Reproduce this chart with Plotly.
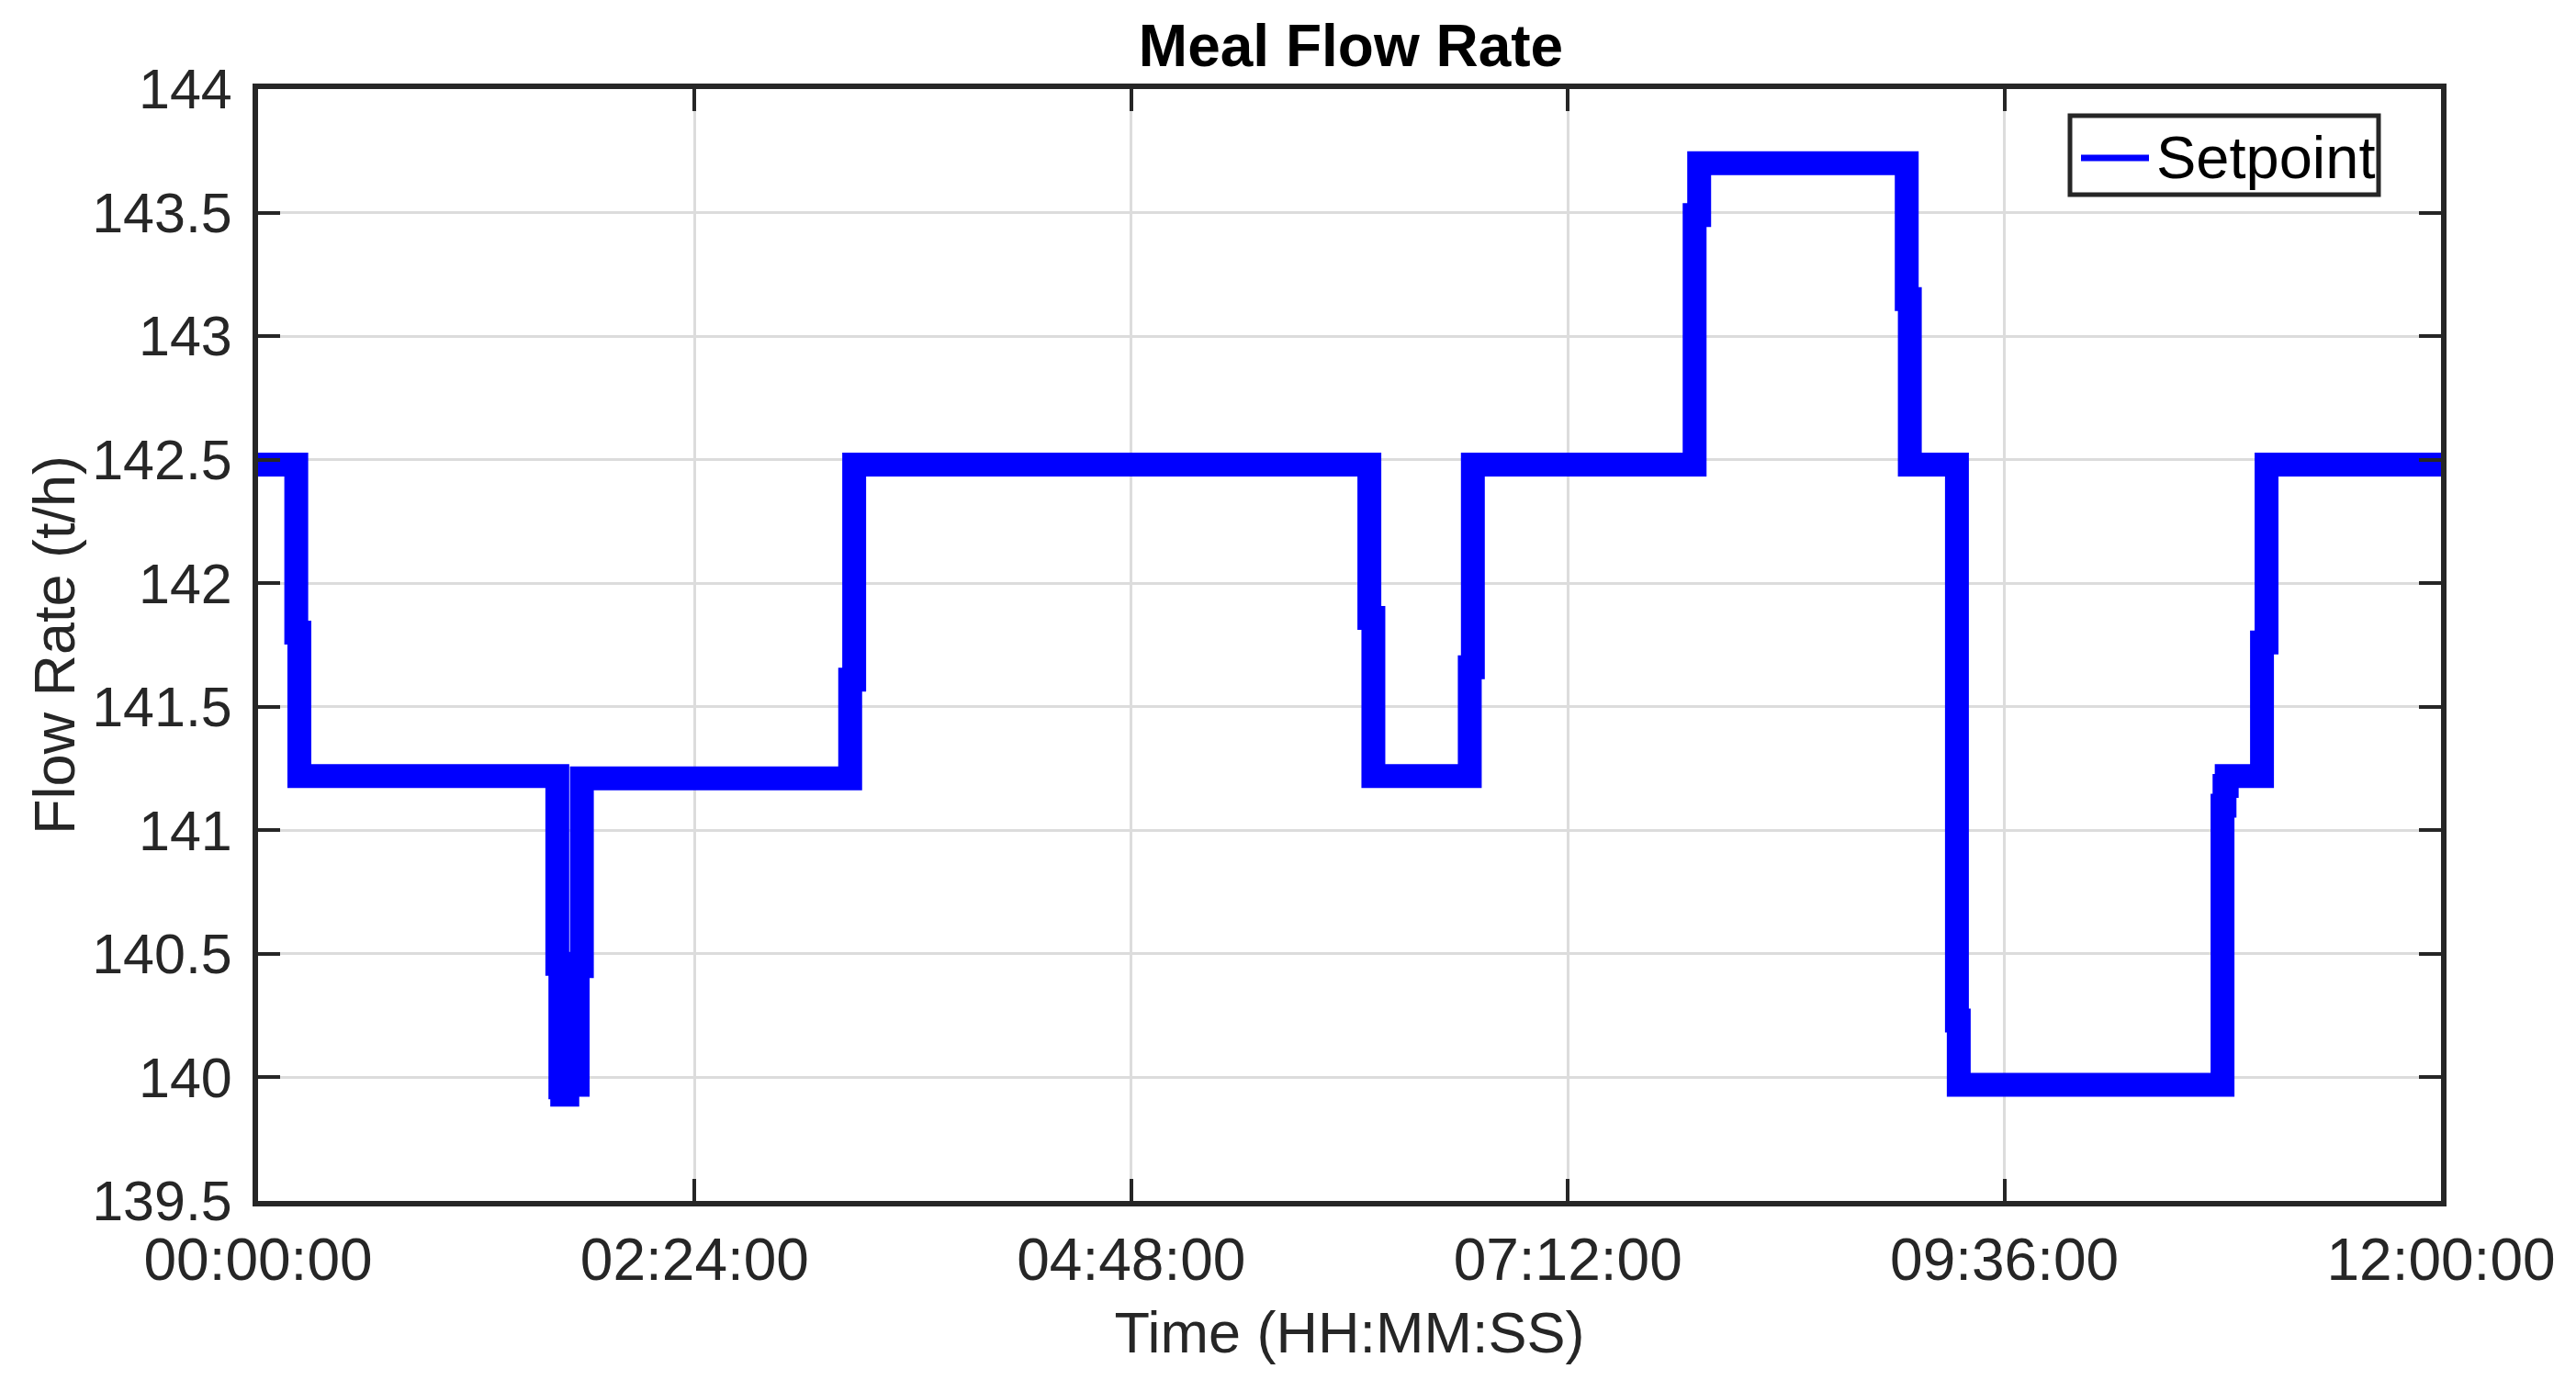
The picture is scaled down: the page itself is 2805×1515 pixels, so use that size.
import pandas as pd
import plotly.graph_objects as go

# Step times (hours from 00:00:00) and setpoint values (t/h)
time_hours = [0.0, 0.210, 0.227, 1.645, 1.662, 1.672, 1.700, 1.757,
              1.780, 3.255, 3.277, 6.109, 6.131, 6.661, 6.678, 7.897,
              7.922, 9.063, 9.080, 9.339, 9.349, 10.799, 10.810, 10.822,
              11.016, 11.041, 12.0]
setpoint = [142.48, 141.80, 141.22, 140.46, 139.96, 139.93, 139.97, 140.45,
            141.21, 141.61, 142.48, 141.86, 141.22, 141.66, 142.48, 143.49,
            143.70, 143.15, 142.48, 140.23, 139.97, 141.10, 141.18, 141.22,
            141.76, 142.48, 142.48]

tick_hours = [0, 2.4, 4.8, 7.2, 9.6, 12.0]
tick_labels = ["00:00:00", "02:24:00", "04:48:00", "07:12:00", "09:36:00", "12:00:00"]
y_ticks = [139.5, 140, 140.5, 141, 141.5, 142, 142.5, 143, 143.5, 144]
y_tick_labels = ["139.5", "140", "140.5", "141", "141.5", "142", "142.5", "143", "143.5", "144"]
legend_label = "Setpoint"

base = pd.Timestamp("2024-01-01 00:00:00")
x_times = [base + pd.to_timedelta(h, unit="h") for h in time_hours]
x_ticks = [base + pd.to_timedelta(h, unit="h") for h in tick_hours]

FONT = "Liberation Sans, Arial, Helvetica, sans-serif"
AX = "#262626"
BLUE = "#0000ff"

W, H = 2805, 1515
L, R, T, B = 281, 147, 97, 207
PW, PH = W - L - R, H - T - B


def px_x(x):
    return (x - L) / PW


def px_y(y):
    return (H - B - y) / PH


fig = go.Figure()
fig.add_trace(go.Scatter(
    x=x_times, y=setpoint, mode="lines", name=legend_label,
    line=dict(color=BLUE, width=26, shape="hv"),
    showlegend=False,
))

# MATLAB-style legend box (drawn in paper coordinates)
fig.add_shape(type="rect", xref="paper", yref="paper",
              x0=px_x(2254), x1=px_x(2590), y0=px_y(212), y1=px_y(126),
              line=dict(color=AX, width=5), fillcolor="white", layer="above")
fig.add_shape(type="line", xref="paper", yref="paper",
              x0=px_x(2266), x1=px_x(2340), y0=px_y(172), y1=px_y(172),
              line=dict(color=BLUE, width=7), layer="above")
fig.add_annotation(xref="paper", yref="paper", x=px_x(2346), y=px_y(172),
                   xanchor="left", yanchor="middle", showarrow=False,
                   text=legend_label,
                   font=dict(family=FONT, size=65, color="black"))

fig.update_layout(
    width=W, height=H,
    margin=dict(l=L, r=R, t=T, b=B),
    paper_bgcolor="white", plot_bgcolor="white",
    font=dict(family=FONT, size=63, color=AX),
    title=dict(text="<b>Meal Flow Rate</b>", x=(1471 / W), xanchor="center",
               y=0.967, yanchor="middle",
               font=dict(family=FONT, size=64, color="black")),
    showlegend=False,
)

fig.update_xaxes(
    type="date", automargin=False,
    range=[x_ticks[0], x_ticks[-1]],
    tickvals=x_ticks, ticktext=tick_labels,
    showline=True, linecolor=AX, linewidth=6, mirror="allticks",
    ticks="inside", ticklen=24, tickwidth=4, tickcolor=AX,
    showgrid=True, gridcolor="#dcdcdc", gridwidth=3,
    zeroline=False, ticklabelstandoff=3,
    tickfont=dict(family=FONT, size=64, color=AX),
    title=dict(text="Time (HH:MM:SS)", standoff=24,
               font=dict(family=FONT, size=63, color=AX)),
)
fig.update_yaxes(
    automargin=False,
    range=[139.5, 144],
    tickvals=y_ticks, ticktext=y_tick_labels,
    showline=True, linecolor=AX, linewidth=6, mirror="allticks",
    ticks="inside", ticklen=24, tickwidth=4, tickcolor=AX,
    showgrid=True, gridcolor="#dcdcdc", gridwidth=3,
    zeroline=False, ticklabelstandoff=10,
    tickfont=dict(family=FONT, size=61, color=AX),
    title=dict(text="Flow Rate (t/h)", standoff=0,
               font=dict(family=FONT, size=63, color=AX)),
)

fig.write_html(
    "out.html",
    config={"displayModeBar": False},
    post_script="document.body.style.margin='0';document.body.style.overflow='hidden';",
)
